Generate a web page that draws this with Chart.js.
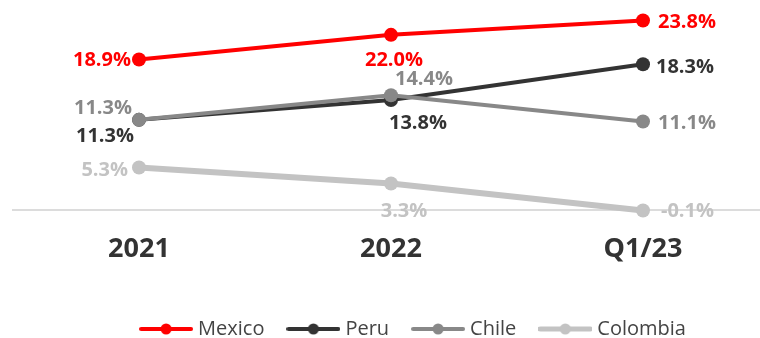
<!DOCTYPE html>
<html>
<head>
<meta charset="utf-8">
<script src="https://cdn.jsdelivr.net/npm/chart.js@4.4.0/dist/chart.umd.min.js"></script>
<style>
html, body { margin: 0; padding: 0; background: #fff; }
#wrap { width: 760px; height: 338px; }
</style>
</head>
<body>
<div id="wrap"><canvas id="chart" width="760" height="338"></canvas></div>
<script>
// data
const periods = ['2021', '2022', 'Q1/23'];
const mexico = [18.9, 22.0, 23.8];
const peru = [11.3, 13.8, 18.3];
const chile = [11.3, 14.4, 11.1];
const colombia = [5.3, 3.3, -0.1];

const colors = { mexico: '#ff0000', peru: '#333333', chile: '#888888', colombia: '#c3c3c3' };

// label placement per point: [textAlign, dx, dy]
const labelPos = {
    mexico:   [['right', -8, 1], ['center', 3, 25], ['left', 15, 2]],
    peru:     [['right', -5, 16], ['center', 27, 23], ['left', 13, 3]],
    chile:    [['right', -7, -12], ['center', 33, -16], ['left', 15, 2]],
    colombia: [['right', -11, 3], ['center', 13, 28], ['left', 18, 1]]
};

function legendIcon(color, lw) {
    const c = document.createElement('canvas');
    c.width = 54; c.height = 14;
    const g = c.getContext('2d');
    g.strokeStyle = color;
    g.lineWidth = lw;
    g.lineCap = 'round';
    g.beginPath(); g.moveTo(2, 7); g.lineTo(52, 7); g.stroke();
    g.fillStyle = color;
    g.beginPath(); g.arc(27, 7, 5.5, 0, Math.PI * 2); g.fill();
    return c;
}
const icons = [
    legendIcon(colors.mexico, 4),
    legendIcon(colors.peru, 4),
    legendIcon(colors.chile, 4),
    legendIcon(colors.colombia, 5)
];

function series(label, data, key, width, order) {
    return {
        label: label,
        data: data,
        borderColor: colors[key],
        backgroundColor: colors[key],
        pointBackgroundColor: colors[key],
        pointBorderWidth: 0,
        pointRadius: 7,
        borderWidth: width,
        tension: 0,
        clip: false,
        order: order,
        labelPos: labelPos[key]
    };
}

// value labels next to each point
const pointLabels = {
    id: 'pointLabels',
    afterDatasetsDraw(chart) {
        const ctx = chart.ctx;
        ctx.save();
        ctx.font = 'bold 20px "Open Sans"';
        ctx.textBaseline = 'middle';
        chart.data.datasets.forEach((ds, i) => {
            const meta = chart.getDatasetMeta(i);
            meta.data.forEach((pt, j) => {
                const p = ds.labelPos[j];
                ctx.fillStyle = ds.borderColor;
                ctx.textAlign = p[0];
                ctx.fillText(ds.data[j].toFixed(1) + '%', pt.x + p[1], pt.y + p[2]);
            });
        });
        ctx.restore();
    }
};

// baseline at zero, wider than the plot area
const zeroLine = {
    id: 'zeroLine',
    beforeDatasetsDraw(chart) {
        const ctx = chart.ctx;
        const y = Math.round(chart.scales.y.getPixelForValue(0));
        ctx.save();
        ctx.strokeStyle = '#dcdcdc';
        ctx.lineWidth = 2;
        ctx.beginPath();
        ctx.moveTo(12, y);
        ctx.lineTo(chart.width, y);
        ctx.stroke();
        ctx.restore();
    }
};

const legendShift = {
    id: 'legendShift',
    afterLayout(chart) {
        const l = chart.legend;
        l.left += 35; l.right += 35;
        l.top += 11; l.bottom += 11;
    }
};

// empty side axes just reserve room so the points sit where the reference has them
const hiddenAxis = (pos, w) => ({
    position: pos,
    display: true,
    grid: { display: false, drawTicks: false },
    border: { display: false },
    ticks: { display: false },
    afterFit(scale) { scale.width = w; }
});

new Chart(document.getElementById('chart'), {
    type: 'line',
    data: {
        labels: periods,
        datasets: [
            series('Mexico', mexico, 'mexico', 4, 0),
            series('Peru', peru, 'peru', 4, 2),
            series('Chile', chile, 'chile', 4, 1),
            series('Colombia', colombia, 'colombia', 6, 3)
        ]
    },
    options: {
        responsive: false,
        animation: false,
        layout: { padding: { left: 0, right: 0, top: 11, bottom: 0 } },
        scales: {
            x: {
                offset: false,
                grid: { display: false, drawTicks: false },
                border: { display: false },
                ticks: {
                    color: '#333333',
                    padding: 15.5,
                    font: { family: '"Open Sans"', size: 27, weight: 'bold' }
                }
            },
            y: Object.assign(hiddenAxis('left', 139), { min: -1, max: 25 }),
            y2: hiddenAxis('right', 117)
        },
        plugins: {
            tooltip: { enabled: false },
            legend: {
                position: 'bottom',
                labels: {
                    usePointStyle: true,
                    pointStyleWidth: 44,
                    padding: 27,
                    color: '#444444',
                    font: { family: '"Open Sans"', size: 20 },
                    generateLabels(chart) {
                        const items = Chart.defaults.plugins.legend.labels.generateLabels(chart);
                        items.forEach(it => { it.pointStyle = icons[it.datasetIndex]; });
                        return items.sort((a, b) => a.datasetIndex - b.datasetIndex);
                    }
                }
            }
        }
    },
    plugins: [zeroLine, pointLabels, legendShift]
});
</script>
</body>
</html>
